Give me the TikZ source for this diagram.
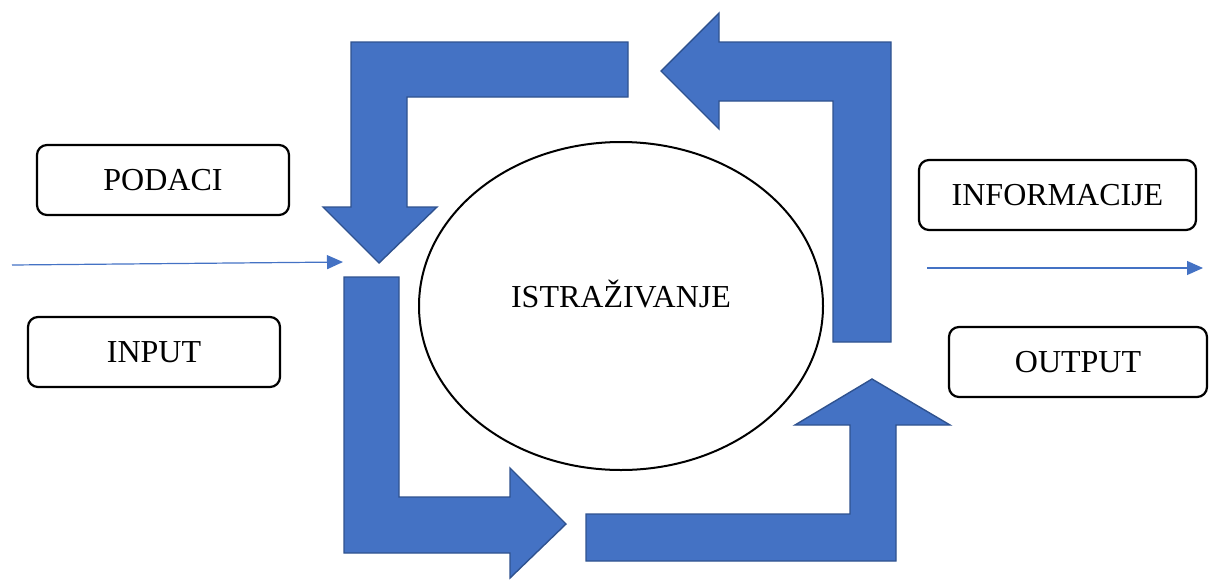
\documentclass[tikz,border=0pt]{standalone}
\usepackage{fontspec}
\setmainfont{Liberation Serif}
\usepackage{tikz}
\usetikzlibrary{positioning,arrows.meta,shapes.geometric}
\definecolor{Blue}{HTML}{4472C4}
\definecolor{Edge}{HTML}{2F528F}

\begin{document}
\begin{tikzpicture}[x=1pt,y=-1pt,every node/.style={font=\fontsize{32}{38}\selectfont}]
\useasboundingbox (0,0) rectangle (1210,579);
\tikzstyle{term}=[draw,line width=2.2pt,rounded corners=10pt,minimum height=70pt,inner sep=0pt]
\tikzstyle{bent}=[fill=Blue,draw=Edge,line width=1.4pt,line join=miter]
\tikzstyle{flow}=[-{Triangle[length=16pt,width=14pt]},Blue,line width=1.2pt]
% cycle of bent arrows
\draw[bent] (628,42) -- (351,42) -- (351,207) -- (323,207) -- (379,263) -- (437,207) -- (407,207) -- (407,97) -- (628,97) -- cycle;
\draw[bent] (891,342) -- (891,42) -- (719,42) -- (719,13) -- (661,71) -- (719,129) -- (719,101) -- (833,101) -- (833,342) -- cycle;
\draw[bent] (344,277) -- (344,553) -- (510,553) -- (510,578) -- (566,524) -- (510,468) -- (510,497) -- (399,497) -- (399,277) -- cycle;
\draw[bent] (586,561) -- (896,561) -- (896,425) -- (950,425) -- (872,379) -- (795,425) -- (850,425) -- (850,514) -- (586,514) -- cycle;
% centre
\node[ellipse,draw,line width=2pt,minimum width=404pt,minimum height=328pt,inner sep=0pt] (res) at (621,306) {};
\node (istr) at (621,294) {ISTRAŽIVANJE};
% left and right boxes
\node[term,minimum width=252pt] (podaci) at (163,180) {PODACI};
\node[term,minimum width=252pt] (input) at (154,352) {INPUT};
\node[term,minimum width=277pt] (info) at (1057.5,195) {INFORMACIJE};
\node[term,minimum width=258pt] (output) at (1078,362) {OUTPUT};
% flows in and out
\coordinate (inA) at (12,265);
\coordinate (inB) at (343,262);
\coordinate (outA) at (927,268);
\coordinate (outB) at (1203,268);
\draw[flow] (inA) -- (inB);
\draw[flow] (outA) -- (outB);
\end{tikzpicture}
\end{document}
